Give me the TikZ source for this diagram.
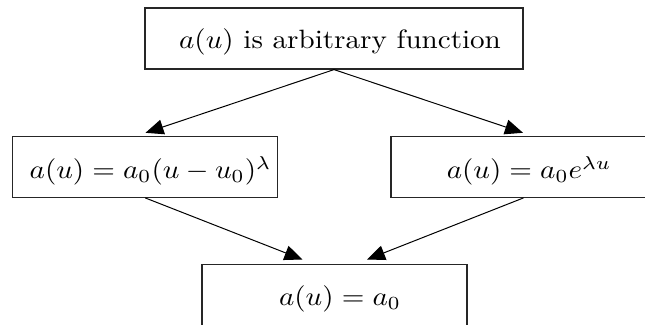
\documentclass[tikz,border=0pt]{standalone}
\usetikzlibrary{arrows.meta}
\tikzset{
  box/.style={draw=black!85, line width=1.2pt, rectangle, inner sep=0pt},
  lbl/.style={inner sep=0pt},
  conn/.style={line width=1pt, -{Triangle[length=18pt,width=15pt]}},
}
\newcommand{\sx}[1]{\scalebox{2.91}[2.65]{#1}}
\begin{document}
\begin{tikzpicture}[x=1pt,y=-1pt]
\useasboundingbox (0,0) rectangle (645,324);
\clip (0,0) rectangle (645,324);
\fill[white] (0,0) rectangle (645,324);
% boxes
\node[box, minimum width=378pt, minimum height=61pt] (top) at (334,38.5) {};
\node[box, minimum width=265pt, minimum height=61pt] (left) at (145.2,166.8) {};
\node[box, minimum width=265pt, minimum height=61pt] (right) at (523.5,166.8) {};
\node[box, minimum width=265pt, minimum height=61pt] (bot) at (334.5,295) {};
% texts
\node[lbl] (ttop) at (340,42) {\sx{$a(u)$ is arbitrary function}};
\node[lbl] (tleft) at (150.5,171) {\sx{$a(u)=a_0(u-u_0)^{\lambda}$}};
\node[lbl] (tright) at (529,171) {\sx{$a(u)=a_0e^{\lambda u}$}};
\node[lbl] (tbot) at (340,298.5) {\sx{$a(u)=a_0$}};
% arrow targets
\coordinate (tl) at (145.5,132.8);
\coordinate (tr) at (523,132.8);
\coordinate (bl) at (302.5,259.5);
\coordinate (br) at (367,259.5);
% connectors
\draw[conn] (top.south) -- (tl);
\draw[conn] (top.south) -- (tr);
\draw[conn] (left.south) -- (bl);
\draw[conn] (right.south) -- (br);
\end{tikzpicture}
\end{document}
